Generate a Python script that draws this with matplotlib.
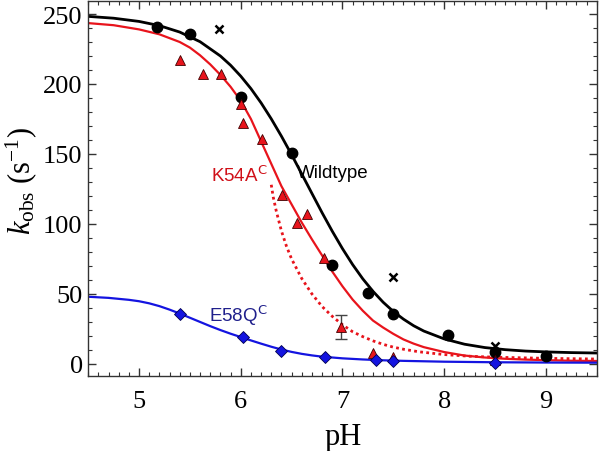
import numpy as np
import matplotlib
matplotlib.use("Agg")
import matplotlib.pyplot as plt
from matplotlib.ticker import MultipleLocator

plt.rcParams['font.family'] = ['Liberation Serif', 'DejaVu Serif']
plt.rcParams['mathtext.fontset'] = 'custom'
plt.rcParams['mathtext.rm'] = 'Liberation Serif'
plt.rcParams['mathtext.it'] = 'Liberation Serif:italic'

# measured points
wt_ph = [5.18, 5.50, 6.00, 6.50, 6.90, 7.25, 7.50, 8.04, 8.50, 9.00]
wt_k = [240.5, 235.5, 191, 150.5, 71, 51, 36, 21, 8.5, 5.5]

wt2_ph = [5.79, 7.50, 8.50]
wt2_k = [239, 62, 12.5]

k54_ph = [5.40, 5.63, 5.81, 6.00, 6.02, 6.21, 6.41, 6.55, 6.65, 6.82, 6.99, 7.30, 7.50, 8.50]
k54_k = [217, 207, 207, 186, 172, 161, 121, 101, 107, 76, 26.5, 7.5, 5, 3]
k54_err = [0, 0, 0, 0, 0, 0, 0, 0, 0, 0, 8.5, 0, 0, 0]

e58_ph = [5.40, 6.02, 6.40, 6.83, 7.33, 7.50, 8.50]
e58_k = [35.7, 19.5, 9.5, 5.2, 2.9, 2.1, 0.5]

# fitted curves
wt_fit_ph = [4.5, 4.75, 5.0, 5.2, 5.4, 5.6, 5.8, 5.9, 6.0, 6.1, 6.2, 6.3, 6.4, 6.5, 6.6,
             6.7, 6.8, 6.9, 7.0, 7.1, 7.2, 7.3, 7.4, 7.5, 7.6, 7.7, 7.8, 8.0, 8.2, 8.4,
             8.6, 8.8, 9.0, 9.25, 9.5]
wt_fit_k = [248.3, 247.0, 244.7, 241.7, 237.1, 230.2, 220.0, 213.4, 205.6, 196.7, 186.5,
            175.1, 162.7, 149.5, 135.7, 121.8, 108.0, 94.8, 82.4, 71.0, 60.8, 51.9, 44.1,
            37.5, 32.0, 27.3, 23.5, 17.9, 14.1, 11.7, 10.2, 9.2, 8.6, 8.1, 7.8]

k54_fit_ph = [4.5, 4.75, 5.0, 5.2, 5.4, 5.5, 5.6, 5.7, 5.8, 5.9, 6.0, 6.1, 6.2, 6.3, 6.4,
              6.5, 6.6, 6.7, 6.8, 6.9, 7.0, 7.1, 7.2, 7.3, 7.4, 7.5, 7.6, 7.7, 7.8, 8.0,
              8.2, 8.4, 8.6, 8.8, 9.0, 9.25, 9.5]
k54_fit_k = [243.5, 242, 239, 235.5, 230, 226, 220.5, 214, 206.5, 198, 188, 175, 159, 143,
             127, 114, 101, 89, 77.5, 66, 55.5, 46, 38, 31, 26, 21.5, 17.5, 14.5, 12, 8.5,
             6, 4.6, 3.7, 3.1, 2.7, 2.3, 2.1]

k54_dot_ph = [6.30, 6.32, 6.35, 6.40, 6.45, 6.5, 6.6, 6.7, 6.8, 6.9, 7.0, 7.1, 7.2, 7.3,
              7.4, 7.5, 7.6, 7.75, 8.0, 8.25, 8.5, 9.0, 9.5]
k54_dot_k = [128, 119, 109, 95, 84, 75, 61, 50, 41, 34, 28, 23, 19.5, 16.5, 14, 12, 10.5,
             8.7, 6.7, 5.5, 4.8, 4, 3.5]

e58_fit_ph = [4.5, 4.7, 4.9, 5.0, 5.1, 5.2, 5.3, 5.4, 5.5, 5.6, 5.7, 5.8, 5.9, 6.0, 6.1,
              6.2, 6.3, 6.4, 6.5, 6.6, 6.7, 6.8, 7.0, 7.2, 7.4, 7.6, 8.0, 8.5, 9.0, 9.5]
e58_fit_k = [48, 47.2, 45.8, 44.8, 43.3, 41.3, 38.8, 36, 33, 30, 27, 24.2, 21.6, 19.2, 16.8,
             14.5, 12.3, 10.3, 8.6, 7.2, 6.1, 5.2, 4, 3.2, 2.6, 2.2, 1.6, 1.2, 1, 0.9]

red = '#e8141c'
blue = '#1414e0'

fig = plt.figure(figsize=(6.0, 4.52), dpi=100)
ax = fig.add_axes([0.147, 0.1666, 0.8475, 0.829])

ax.plot(wt_fit_ph, wt_fit_k, color='black', lw=2, zorder=2)
ax.plot(k54_fit_ph, k54_fit_k, color=red, lw=1.6, zorder=2)
ax.plot(k54_dot_ph, k54_dot_k, color=red, lw=2, ls=(0, (1, 1.2)), zorder=2)
ax.plot(e58_fit_ph, e58_fit_k, color=blue, lw=1.6, zorder=2)

ax.errorbar(k54_ph[10], k54_k[10], yerr=k54_err[10], fmt='none', ecolor='#444444',
            elinewidth=1, capsize=4, capthick=1, zorder=3)
ax.plot(wt_ph, wt_k, 'o', color='black', ms=7.5, zorder=4)
ax.plot(wt2_ph, wt2_k, 'x', color='black', ms=6, mew=1.8, zorder=4)
ax.plot(k54_ph, k54_k, '^', color=red, mec='#400000', mew=0.6, ms=7.5, zorder=5)
ax.plot(e58_ph, e58_k, 'D', color=blue, mec='#000050', mew=0.6, ms=6.5, zorder=5)

ax.text(6.55, 137, 'Wildtype', color='black', fontsize=13.5, family='Liberation Sans',
        ha='left', va='center')
ax.text(5.71, 135, 'K54A$^{\\mathsf{C}}$', color='#d01018', fontsize=13.5, family='Liberation Sans',
        ha='left', va='center')
ax.text(5.69, 35, 'E58Q$^{\\mathsf{C}}$', color='#20208c', fontsize=13.5, family='Liberation Sans',
        ha='left', va='center')

ax.set_xlim(4.5, 9.5)
ax.set_ylim(-8.4, 259.3)
ax.xaxis.set_major_locator(MultipleLocator(1))
ax.xaxis.set_minor_locator(MultipleLocator(0.1))
ax.yaxis.set_major_locator(MultipleLocator(50))
ax.yaxis.set_minor_locator(MultipleLocator(10))
ax.tick_params(which='both', direction='in', top=True, right=True, labelsize=19, color='#333333')
ax.tick_params(which='major', length=6, width=1)
ax.tick_params(which='minor', length=3, width=0.8)
ax.tick_params(axis='x', which='major', pad=10)
ax.tick_params(axis='y', which='major', pad=4)
for s in ax.spines.values():
    s.set_color('#333333')
    s.set_linewidth(1)

fig.text(0.572, 0.031, 'pH', fontsize=22, ha='center', va='center')
fig.text(0.036, 0.60, '$k_{\\mathrm{obs}}$ (s$^{\\mathrm{-1}}$)', fontsize=22,
         rotation=90, ha='center', va='center')

fig.savefig('out.png', dpi=100)
